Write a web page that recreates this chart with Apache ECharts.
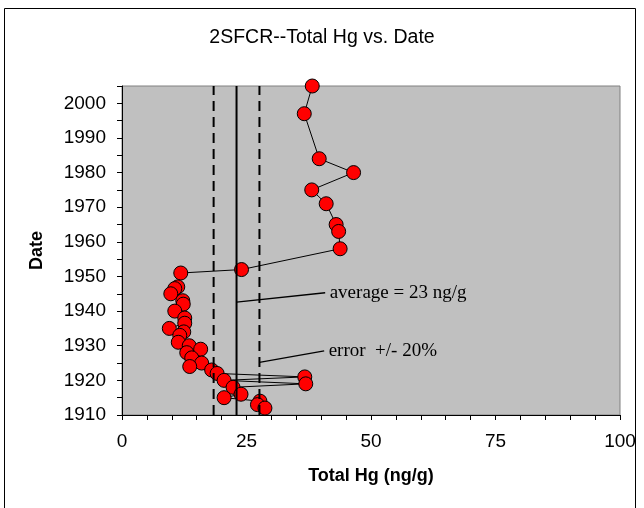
<!DOCTYPE html>
<html>
<head>
<meta charset="utf-8">
<script src="https://cdn.jsdelivr.net/npm/echarts/dist/echarts.min.js"></script>
<style>
  html, body { margin: 0; padding: 0; background: #ffffff; }
  #chart { width: 644px; height: 508px; }
</style>
</head>
<body>
<div id="chart"></div>
<script>
// Core 2SFCR: total mercury by sediment date (youngest first, in core order)
const hgValues = [38.2, 36.6, 39.6, 46.5, 38.1, 41.0, 43.0, 43.5, 43.8, 24.0,
                  11.8, 11.2, 10.6, 9.8, 12.2, 12.3, 10.6, 12.6, 12.6, 9.5,
                  12.4, 11.6, 11.3, 13.5, 15.8, 13.0, 14.0, 16.0, 13.6, 18.0,
                  19.1, 36.7, 20.5, 36.9, 22.3, 23.9, 20.5, 27.7, 27.2, 28.7];
const dates    = [2005, 1997, 1984, 1980, 1975, 1971, 1965, 1963, 1958, 1952,
                  1951, 1947, 1946.5, 1945, 1943, 1942, 1940, 1938, 1936.5, 1935,
                  1934, 1933, 1931, 1930, 1929, 1928, 1926.5, 1925, 1924, 1923,
                  1922, 1921, 1920, 1919, 1918, 1916, 1915, 1914, 1913, 1912];

// Reference levels
const averageHg = 23;
const errorBand = [18.4, 27.6];   // average +/- 20%

// Axis ranges and labelled ticks
const xRange = [0, 100];
const yRange = [1910, 2005];
const xTickLabels = [0, 25, 50, 75, 100];
const yTickLabels = [1910, 1920, 1930, 1940, 1950, 1960, 1970, 1980, 1990, 2000];

// Callout leader lines: [from, to] in data units, text placed at the end
const averageCallout = [[23, 1942.6], [40.8, 1945.3]];
const errorCallout   = [[27.6, 1925.2], [40.6, 1928.5]];
const averageText = 'average = 23 ng/g';
const errorText   = 'error  +/- 20%';

const sans = 'Liberation Sans, Arial, sans-serif';
const serif = 'Liberation Serif, Times New Roman, serif';

function verticalLine(x, dashed) {
  return {
    type: 'line',
    data: [[x, yRange[0]], [x, yRange[1]]],
    symbol: 'none',
    silent: true,
    z: 4,
    lineStyle: { color: '#000000', width: 2, type: dashed ? [10, 6] : 'solid' }
  };
}

function callout(points, text) {
  return {
    type: 'line',
    data: [
      { value: points[0] },
      { value: points[1],
        label: { show: true, position: 'right', distance: 4, formatter: text,
                 color: '#000000', fontFamily: serif, fontSize: 19 } }
    ],
    symbol: 'circle',
    symbolSize: 1,
    itemStyle: { color: 'rgba(0,0,0,0)' },
    silent: true,
    z: 4,
    lineStyle: { color: '#000000', width: 1.3 }
  };
}

const chart = echarts.init(document.getElementById('chart'), null, { renderer: 'canvas' });

chart.setOption({
  backgroundColor: '#ffffff',
  animation: false,
  title: {
    text: '2SFCR--Total Hg vs. Date',
    left: 'center',
    top: 23,
    textStyle: { fontFamily: sans, fontSize: 19.5, fontWeight: 'normal', color: '#000000' }
  },
  graphic: [{
    type: 'rect',
    shape: { x: 4.5, y: 8.5, width: 631, height: 540 },
    style: { fill: 'none', stroke: '#000000', lineWidth: 1 },
    silent: true,
    z: -10
  }],
  grid: {
    left: 122, right: 24, top: 86, bottom: 93,
    show: true,
    backgroundColor: '#C0C0C0',
    borderColor: '#808080',
    borderWidth: 1
  },
  xAxis: {
    type: 'value',
    min: xRange[0], max: xRange[1], interval: 5,
    name: 'Total Hg (ng/g)',
    nameLocation: 'middle',
    nameGap: 52,
    nameTextStyle: { fontFamily: sans, fontSize: 18, fontWeight: 'bold', color: '#000000' },
    axisLine: { lineStyle: { color: '#000000', width: 1 } },
    axisTick: { length: 5, lineStyle: { color: '#000000' } },
    splitLine: { show: false },
    axisLabel: {
      margin: 17,
      fontFamily: sans, fontSize: 19, color: '#000000',
      formatter: v => (xTickLabels.includes(v) ? String(v) : '')
    }
  },
  yAxis: {
    type: 'value',
    min: yRange[0], max: yRange[1], interval: 5,
    name: 'Date',
    nameLocation: 'middle',
    nameGap: 76,
    nameTextStyle: { fontFamily: sans, fontSize: 18, fontWeight: 'bold', color: '#000000' },
    axisLine: { show: true, lineStyle: { color: '#000000', width: 1 } },
    axisTick: { show: true, length: 5, lineStyle: { color: '#000000' } },
    splitLine: { show: false },
    axisLabel: {
      margin: 16,
      fontFamily: sans, fontSize: 19, color: '#000000',
      formatter: v => (yTickLabels.includes(v) ? String(v) : '')
    }
  },
  series: [
    {
      name: 'Total Hg',
      type: 'line',
      data: hgValues.map((v, i) => [v, dates[i]]),
      symbol: 'circle',
      symbolSize: 14,
      clip: false,
      z: 3,
      lineStyle: { color: '#000000', width: 1 },
      itemStyle: { color: '#FF0000', borderColor: '#000000', borderWidth: 1 }
    },
    verticalLine(averageHg, false),
    verticalLine(errorBand[0], true),
    verticalLine(errorBand[1], true),
    callout(averageCallout, averageText),
    callout(errorCallout, errorText)
  ]
});
</script>
</body>
</html>
